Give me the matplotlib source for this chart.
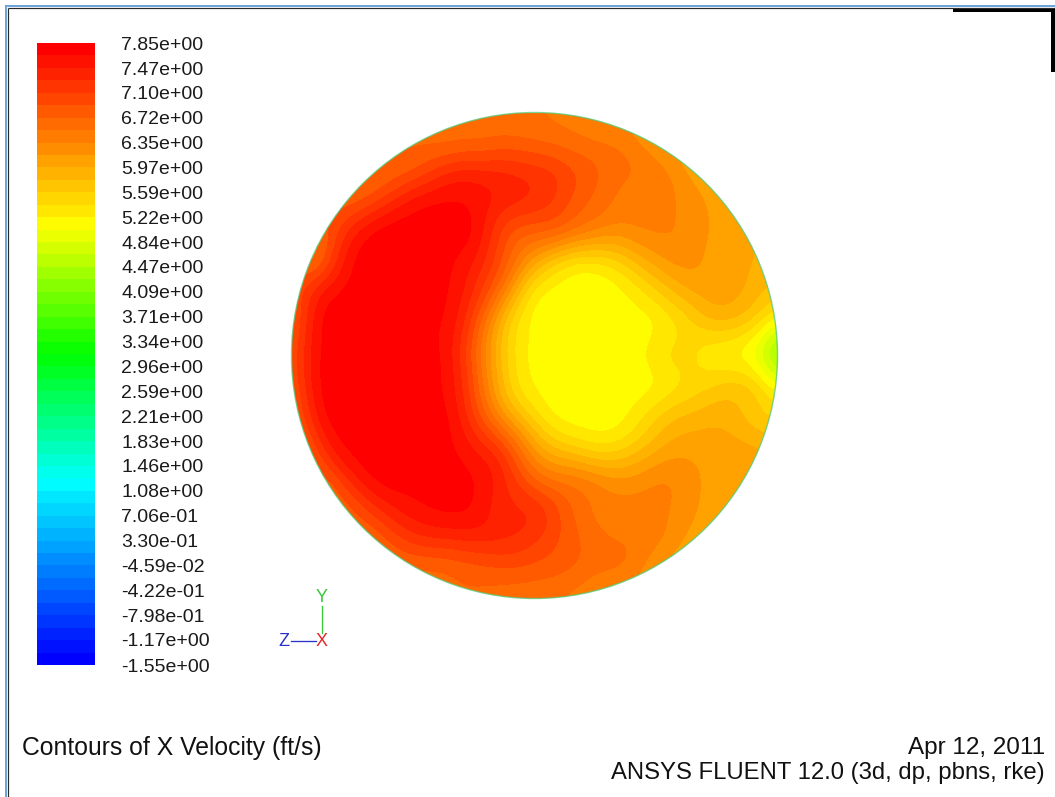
import numpy as np
import matplotlib
matplotlib.use("Agg")
import matplotlib.pyplot as plt
import matplotlib.tri as mtri
from matplotlib.colors import LinearSegmentedColormap
from matplotlib.patches import Circle, Rectangle

plt.rcParams['font.family'] = ['Liberation Sans', 'DejaVu Sans']

# ---------------------------------------------------------------- data
# colour-scale labels of X velocity (ft/s), top to bottom
scale_labels = [
    "7.85e+00", "7.47e+00", "7.10e+00", "6.72e+00", "6.35e+00", "5.97e+00",
    "5.59e+00", "5.22e+00", "4.84e+00", "4.47e+00", "4.09e+00", "3.71e+00",
    "3.34e+00", "2.96e+00", "2.59e+00", "2.21e+00", "1.83e+00", "1.46e+00",
    "1.08e+00", "7.06e-01", "3.30e-01", "-4.59e-02", "-4.22e-01", "-7.98e-01",
    "-1.17e+00", "-1.55e+00",
]
scale_values = [float(s) for s in scale_labels]
n_bands = 50

# X velocity sampled on a 17 x 17 grid over the pipe section
# (normalised coordinates, rows from top to bottom, nan = outside the wall)
N = np.nan
grid_u = np.linspace(-1.0, 1.0, 17)
grid_v = np.linspace(1.0, -1.0, 17)
x_velocity_grid = np.array([
    [N, N, N, N, N, N, N, N, N, N, N, N, N, N, N, N, N],
    [N, N, N, N, N, 6.70, 6.75, 6.80, 6.75, 6.65, 6.55, 6.45, N, N, N, N, N],
    [N, N, N, N, 6.95, 7.25, 7.35, 7.30, 7.20, 7.00, 6.75, 6.55, 6.45, N, N, N, N],
    [N, N, N, 7.20, 7.56, 7.68, 7.62, 7.35, 7.20, 6.95, 6.65, 6.45, 6.40, 6.30, N, N, N],
    [N, N, 7.40, 7.74, 7.74, 7.74, 7.64, 7.00, 6.70, 6.50, 6.25, 6.22, 6.35, 6.30, 6.10, N, N],
    [N, 6.90, 7.66, 7.74, 7.74, 7.72, 7.45, 6.80, 5.95, 5.45, 5.35, 5.60, 6.00, 6.20, 6.08, 6.00, N],
    [N, 7.50, 7.74, 7.74, 7.74, 7.70, 7.25, 6.30, 5.30, 5.12, 5.10, 5.20, 5.50, 5.87, 6.05, 5.92, N],
    [N, 7.68, 7.74, 7.74, 7.74, 7.65, 6.95, 5.75, 5.15, 5.10, 5.10, 5.12, 5.22, 5.50, 5.70, 5.55, N],
    [N, 7.70, 7.74, 7.74, 7.74, 7.64, 6.80, 5.65, 5.15, 5.10, 5.10, 5.12, 5.30, 5.45, 5.30, 5.15, N],
    [N, 7.70, 7.74, 7.74, 7.74, 7.66, 6.90, 5.75, 5.20, 5.12, 5.10, 5.12, 5.22, 5.45, 5.60, 5.60, N],
    [N, 7.60, 7.74, 7.74, 7.74, 7.72, 7.10, 6.20, 5.50, 5.15, 5.12, 5.20, 5.55, 5.80, 5.90, 5.75, N],
    [N, 7.25, 7.72, 7.74, 7.74, 7.74, 7.45, 6.95, 6.08, 5.65, 5.45, 5.55, 5.90, 6.08, 6.08, 6.00, N],
    [N, N, 7.40, 7.74, 7.74, 7.74, 7.66, 7.30, 6.67, 6.40, 6.24, 6.14, 6.30, 6.24, 6.08, N, N],
    [N, N, N, 7.35, 7.60, 7.70, 7.64, 7.35, 7.20, 6.80, 6.50, 6.40, 6.40, 6.24, N, N, N],
    [N, N, N, N, 7.20, 7.30, 7.35, 7.30, 7.15, 6.85, 6.60, 6.50, 6.40, N, N, N, N],
    [N, N, N, N, N, 6.75, 6.85, 6.90, 6.85, 6.75, 6.60, 6.50, N, N, N, N, N],
    [N, N, N, N, N, N, N, N, N, N, N, N, N, N, N, N, N],
])

# X velocity just inside the wall, every 10 degrees counter-clockwise from the +Z side
rim_angles_deg = np.arange(0, 360, 10)
rim_velocity = [
    4.30, 5.30, 5.85, 5.95, 6.00, 6.05, 6.15, 6.30, 6.45, 6.55, 6.60, 6.65,
    6.70, 6.72, 6.75, 6.75, 6.78, 6.80, 6.80, 6.80, 6.78, 6.75, 6.75, 6.72,
    6.70, 6.68, 6.65, 6.55, 6.45, 6.30, 6.15, 6.05, 6.00, 5.95, 5.85, 5.30,
]

# ---------------------------------------------------------------- figure
W, H = 1055, 797
fig = plt.figure(figsize=(W / 100, H / 100), dpi=100)
fig.patch.set_facecolor("white")

# page layer (window frame, captions, axis triad) in pixel coordinates
page = fig.add_axes([0, 0, 1, 1])
page.set_xlim(0, W)
page.set_ylim(H, 0)
page.axis("off")

px = 0.72  # one pixel in points
page.plot([6, 6], [5, H], color="#6fa3dc", lw=2 * px, solid_capstyle="butt")
page.plot([5, W], [6, 6], color="#6fa3dc", lw=2 * px, solid_capstyle="butt")
page.plot([8.2, 8.2], [7.5, H], color="#2a2a2a", lw=1.2 * px, solid_capstyle="butt")
page.plot([7.5, W], [8.2, 8.2], color="#2a2a2a", lw=1.2 * px, solid_capstyle="butt")
page.add_patch(Rectangle((953, 8), W - 953, 4, color="black", lw=0))
page.add_patch(Rectangle((1051, 8), 4, 64, color="black", lw=0))

page.text(22, 748, "Contours of X Velocity (ft/s)", fontsize=17.8,
          ha="left", va="center", color="#111111")
page.text(1045, 748, "Apr 12, 2011", fontsize=17.5,
          ha="right", va="center", color="#111111")
page.text(1045, 773, "ANSYS FLUENT 12.0 (3d, dp, pbns, rke)", fontsize=17.2,
          ha="right", va="center", color="#111111")

# axis triad
green, red, blue = "#3cc83c", "#e0282a", "#2832c8"
page.plot([322, 322], [606, 633], color=green, lw=1.3 * px)
page.plot([291, 316], [641, 641], color=blue, lw=1.3 * px)
page.text(322, 598, "Y", color=green, fontsize=13, ha="center", va="center")
page.text(322, 642, "X", color=red, fontsize=13, ha="center", va="center")
page.text(284, 642, "Z", color=blue, fontsize=13, ha="center", va="center")

# colour map: blue - cyan - green - yellow - red, in discrete bands
spectrum = LinearSegmentedColormap.from_list(
    "spectrum",
    [(0.0, "#0000ff"), (0.29, "#00ffff"), (0.5, "#00ff00"),
     (0.71, "#ffff00"), (1.0, "#ff0000")])
band_colors = [spectrum(i / (n_bands - 1)) for i in range(n_bands)]
vmin, vmax = min(scale_values), max(scale_values)
levels = np.linspace(vmin, vmax, n_bands + 1)

# contour field on the pipe cross-section
ax = fig.add_axes([291.5 / W, 1 - 598.5 / H, 486 / W, 486 / H])
ax.set_xlim(-1, 1)
ax.set_ylim(-1, 1)
ax.set_aspect("equal")
ax.axis("off")

uu, vv = np.meshgrid(grid_u, grid_v)
inside = ~np.isnan(x_velocity_grid)
theta = np.deg2rad(rim_angles_deg)
pts_u = np.concatenate([uu[inside], np.cos(theta)])
pts_v = np.concatenate([vv[inside], np.sin(theta)])
vals = np.concatenate([x_velocity_grid[inside], rim_velocity])

tri = mtri.Triangulation(pts_u, pts_v)
interp = mtri.CubicTriInterpolator(tri, vals, kind="min_E")

# evaluate on a fine raster; points beyond the wall take the wall value
n_fine = 400
fu = np.linspace(-1.0, 1.0, n_fine)
FU, FV = np.meshgrid(fu, fu)
r = np.hypot(FU, FV)
scale = np.minimum(1.0, 0.99 / np.maximum(r, 1e-9))
field = np.asarray(interp(FU * scale, FV * scale).filled(np.nan))

# gaussian smoothing of the raster (separable)
half = 18
kern = np.exp(-0.5 * (np.arange(-half, half + 1) / 6.0) ** 2)
kern /= kern.sum()
padded = np.pad(field, half, mode="edge")
field = np.apply_along_axis(lambda row: np.convolve(row, kern, mode="valid"), 1, padded)
field = np.apply_along_axis(lambda col: np.convolve(col, kern, mode="valid"), 0, field)
field = np.clip(field, vmin + 1e-6, vmax - 1e-6)

cs = ax.contourf(FU, FV, field, levels=levels, colors=band_colors)
wall = Circle((0, 0), 1.0, transform=ax.transData)
cs.set_clip_path(wall)
ax.add_patch(Circle((0, 0), 1.0, fill=False, edgecolor="#52c878",
                    lw=1.0, alpha=0.75, clip_on=False))

# colour bar
cax = fig.add_axes([37 / W, 1 - 665 / H, 58 / W, 622 / H])
cbar = fig.colorbar(cs, cax=cax, ticks=scale_values)
cbar.set_ticklabels(scale_labels)
cbar.outline.set_visible(False)
cax.tick_params(length=0, pad=19, labelsize=14, labelcolor="#1a1a1a")

fig.savefig("out.png", dpi=100)
